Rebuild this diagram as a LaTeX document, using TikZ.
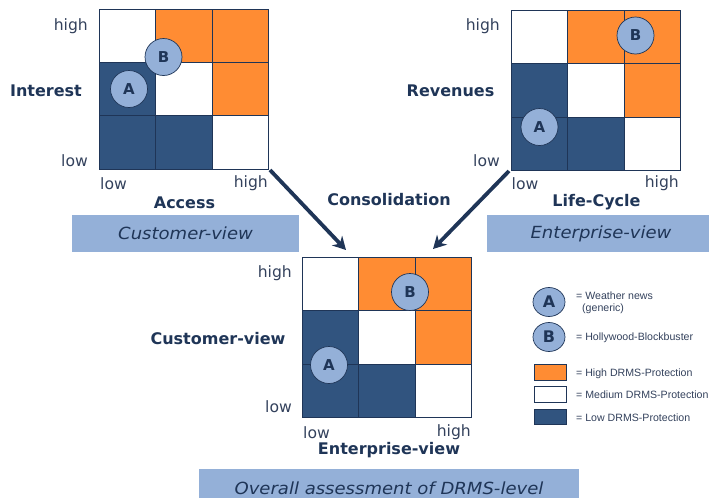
\documentclass[tikz,border=0pt]{standalone}
\usepackage{fontspec}
\setmainfont{DejaVu Sans}
\newfontfamily\legendfont{Liberation Sans}
\newfontfamily\barfont[FakeStretch=1.08]{DejaVu Sans}
\usetikzlibrary{arrows.meta,shapes.geometric}
\definecolor{navy}{HTML}{1F3557}
\definecolor{lowblue}{HTML}{31547F}
\definecolor{hiorange}{HTML}{FF8C33}
\definecolor{barblue}{HTML}{94B0D8}
\definecolor{circblue}{HTML}{94B0D8}
\definecolor{txt}{HTML}{33415C}
\tikzset{
  x=1pt,y=-1pt,
  cellbase/.style={draw=navy,line width=0.8pt,inner sep=0pt,outer sep=0pt},
  marker/.style={circle,draw=navy,line width=0.7pt,fill=circblue,minimum size=37pt,inner sep=0pt,text=navy,font=\fontsize{15}{15}\selectfont\bfseries},
  legmarker/.style={ellipse,draw=navy,line width=0.7pt,fill=circblue,inner sep=0pt,minimum width=32pt,minimum height=29pt,text=navy,font=\fontsize{16}{16}\selectfont\bfseries},
  tick/.style={text=txt,font=\fontsize{15.6}{16}\selectfont,inner sep=0pt,yshift=-1.5pt},
  axis/.style={text=navy,font=\fontsize{16}{16}\selectfont\bfseries,inner sep=0pt},
  viewbar/.style={fill=barblue,draw=none,inner sep=0pt,outer sep=0pt,text=navy,font=\barfont\fontsize{16.7}{17}\selectfont\itshape},
  legtext/.style={text=txt,anchor=west,inner sep=0pt,font=\legendfont\fontsize{10.6}{12.5}\selectfont},
  legbox/.style={draw=navy,line width=0.8pt,minimum width=32pt,minimum height=15.5pt,inner sep=0pt},
  bigarrow/.style={draw=navy,line width=3.8pt,-{Stealth[length=13pt,width=14pt]}},
}
\newcommand{\matgrid}[3]{%
  % #1 name prefix, #2 left x, #3 top y
  \foreach \c/\r/\f in {0/0/white,1/0/hiorange,2/0/hiorange,0/1/lowblue,1/1/white,2/1/hiorange,0/2/lowblue,1/2/lowblue,2/2/white}{
    \node[cellbase,fill=\f,minimum width=56.2pt,minimum height=53.3pt,anchor=north west]
      (#1-\c-\r) at ({#2+\c*56.2},{#3+\r*53.3}) {};
  }
}
\begin{document}
\begin{tikzpicture}
\useasboundingbox (0,0) rectangle (709,498);

% Left matrix
\matgrid{p}{99.5}{9}
\node[marker] (pA) at (129,89) {A};
\node[marker] (pB) at (163.5,57) {B};
\node[tick,anchor=east] (ph) at (88,25) {high};
\node[tick,anchor=east] (pl) at (88,159) {low};
\node[tick,anchor=west] (pxl) at (100,182) {low};
\node[tick,anchor=east] (pxh) at (268,182) {high};
\node[axis] (py) at (46,90.5) {Interest};
\node[axis] (px) at (184.5,202.5) {Access};
\node[viewbar,minimum width=227pt,minimum height=37pt] (pv) at (185.5,233.5) {Customer-view};

% Right matrix
\matgrid{q}{511.5}{10.5}
\node[marker] (qA) at (539.5,127) {A};
\node[marker] (qB) at (635.5,35.5) {B};
\node[tick,anchor=east] (qh) at (500,25) {high};
\node[tick,anchor=east] (ql) at (500,159) {low};
\node[tick,anchor=west] (qxl) at (511.5,182) {low};
\node[tick,anchor=east] (qxh) at (679,182) {high};
\node[axis] (qy) at (450.5,90.5) {Revenues};
\node[axis] (qx) at (596.5,202.5) {Life-Cycle};
\node[viewbar,minimum width=222pt,minimum height=37pt] (qv) at (598,233.5) {\hspace*{6pt}Enterprise-view};

% Bottom matrix
\matgrid{r}{302.5}{257.5}
\node[marker] (rA) at (329,365) {A};
\node[marker] (rB) at (410,292) {B};
\node[tick,anchor=east] (rh) at (292,272) {high};
\node[tick,anchor=east] (rl) at (292,405) {low};
\node[tick,anchor=west] (rxl) at (303,431) {low};
\node[tick,anchor=east] (rxh) at (471,431) {high};
\node[axis] (ry) at (218,338.5) {Customer-view};
\node[axis] (rx) at (389,450.5) {Enterprise-view};
\node[viewbar,minimum width=380pt,minimum height=29pt] (rv) at (389,483.5) {\raisebox{-10.5pt}[0pt][0pt]{Overall assessment of DRMS-level}};

% Consolidation arrows
\node[axis] (cons) at (389,199.5) {Consolidation};
\coordinate (a1s) at (270,170);
\coordinate (a1e) at (346,250);
\coordinate (a2s) at (509,171);
\coordinate (a2e) at (433,249);
\draw[bigarrow] (a1s) -- (a1e);
\draw[bigarrow] (a2s) -- (a2e);

% Legend
\node[legmarker] (lA) at (549,302) {A};
\node[legmarker] (lB) at (549,337) {B};
\node[legtext,align=left] (lAt) at (576,303) {= Weather news\\\hspace*{6pt}(generic)};
\node[legtext] (lBt) at (576,337.5) {= Hollywood-Blockbuster};
\node[legbox,fill=hiorange] (lh) at (550,372.5) {};
\node[legbox,fill=white] (lm) at (550,394.5) {};
\node[legbox,fill=lowblue] (ll) at (550,417) {};
\node[legtext] (lht) at (576,373.5) {= High DRMS-Protection};
\node[legtext] (lmt) at (576,395) {= Medium DRMS-Protection};
\node[legtext] (llt) at (576,417.5) {= Low DRMS-Protection};
\end{tikzpicture}
\end{document}
